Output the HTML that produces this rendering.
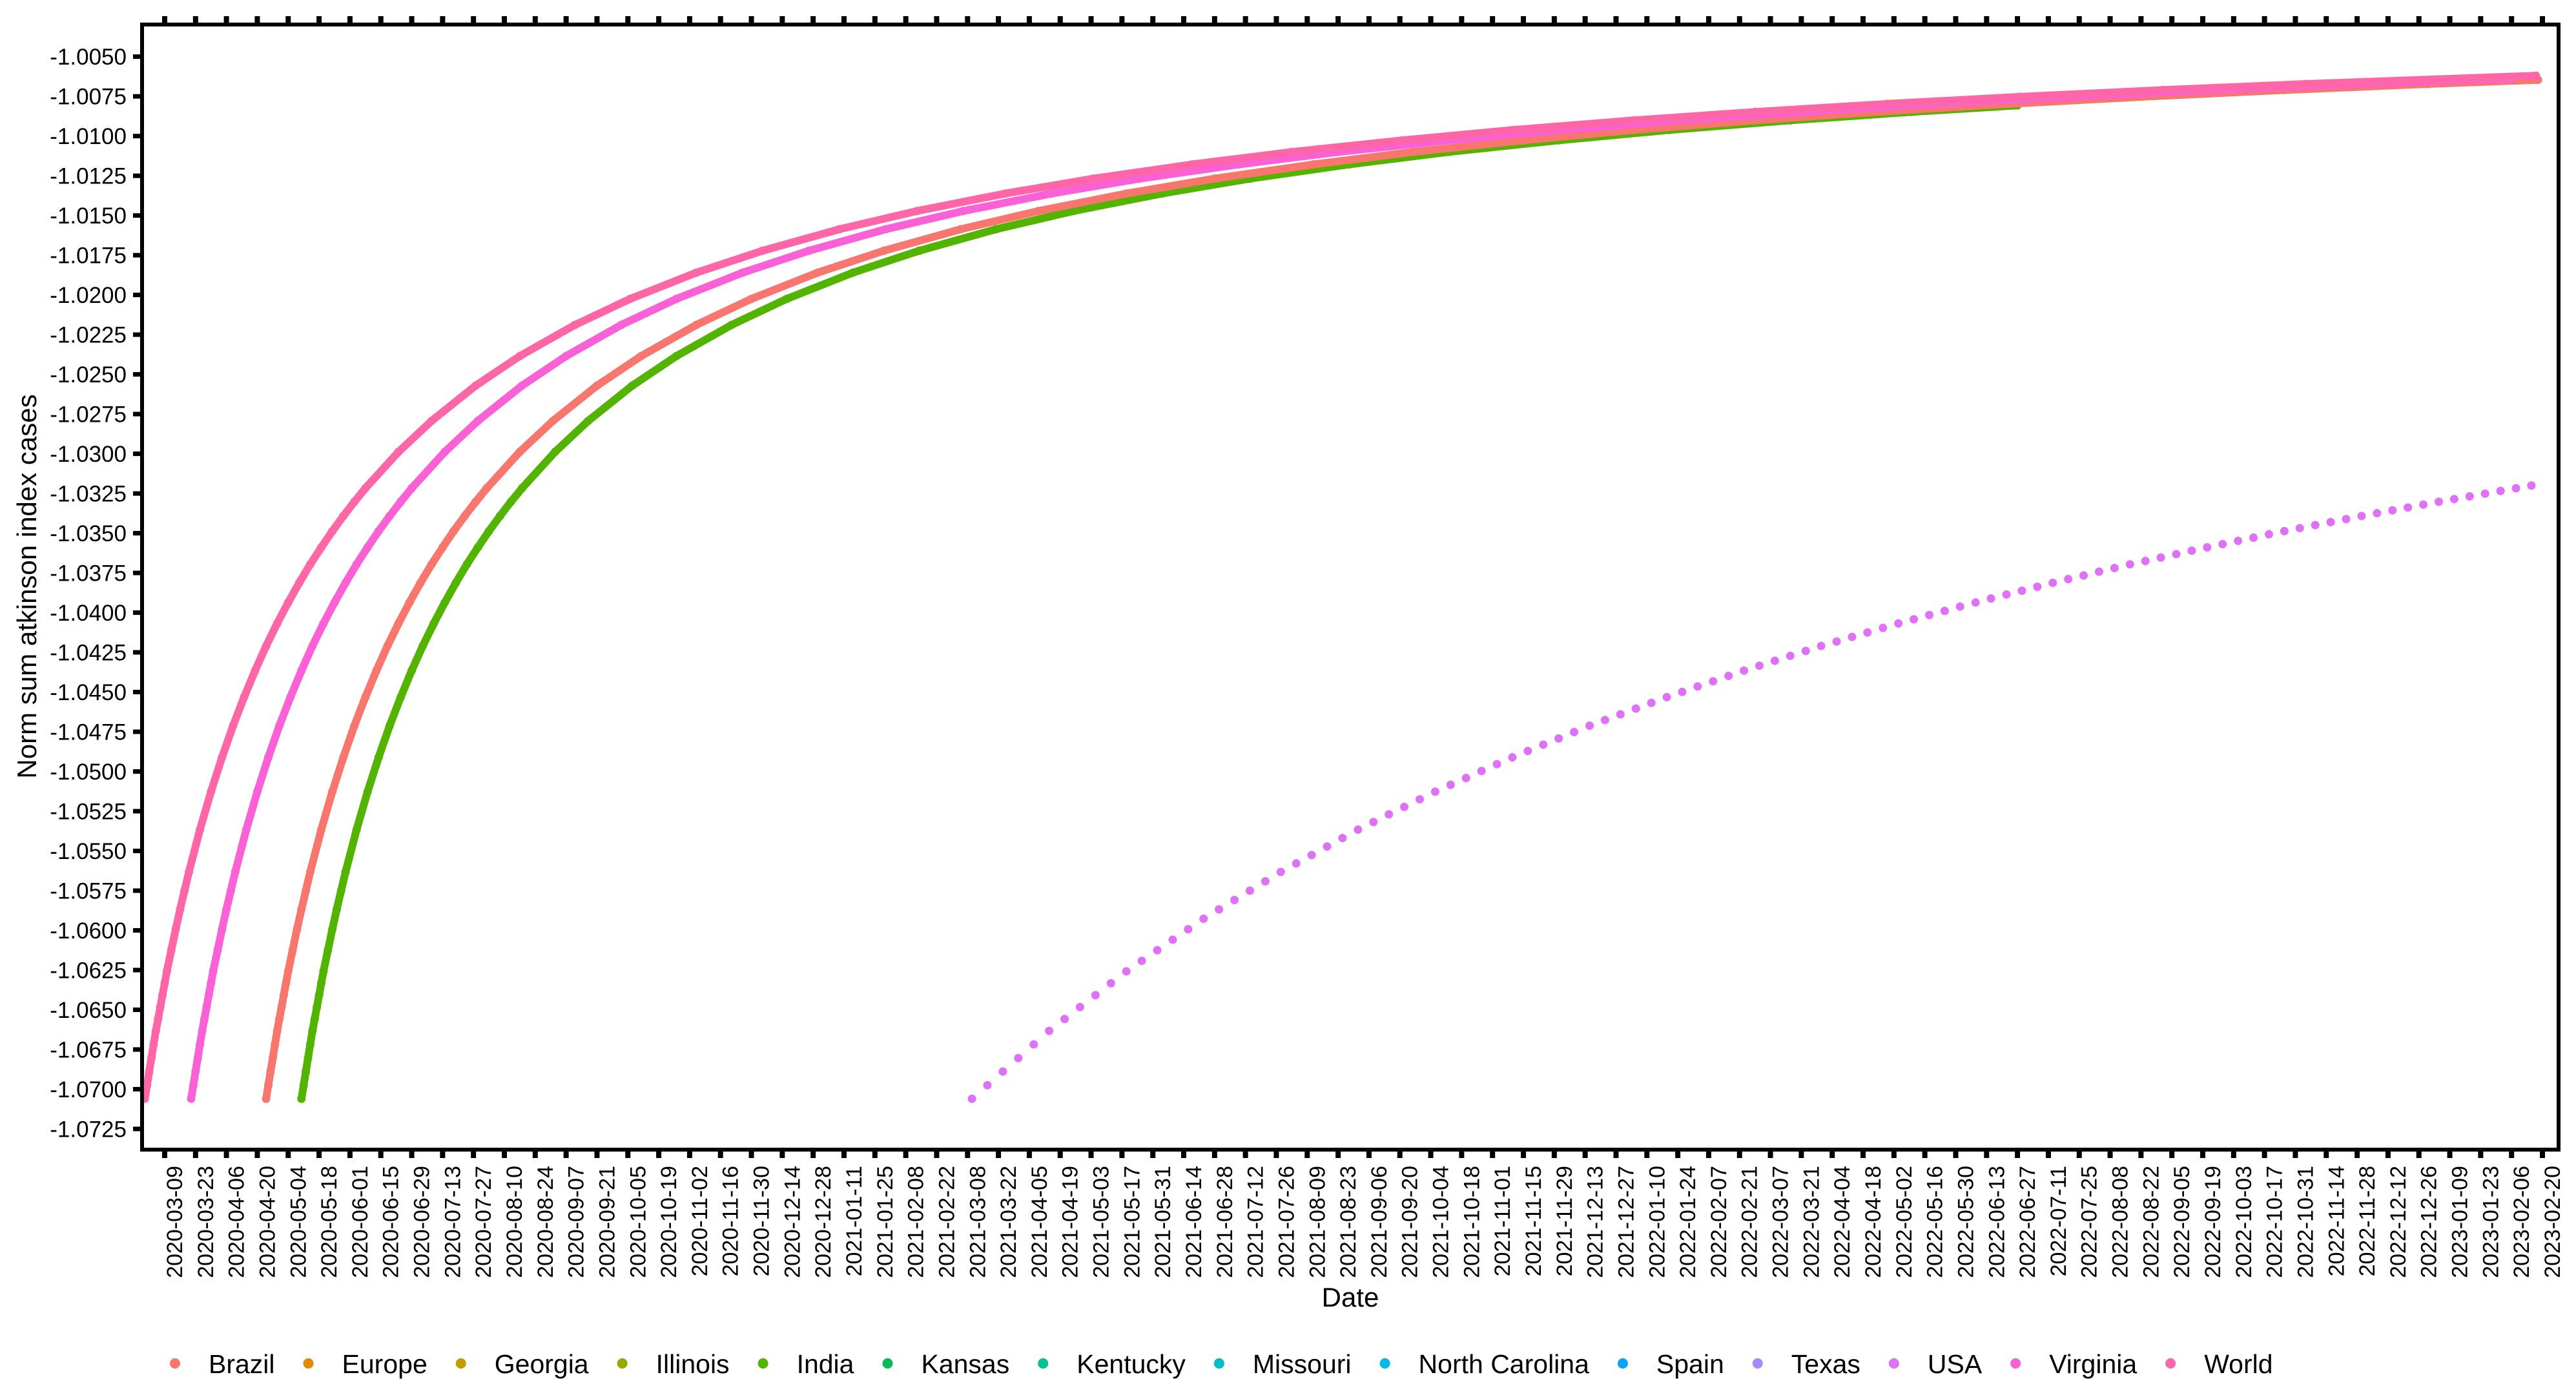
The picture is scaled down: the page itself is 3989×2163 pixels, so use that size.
<!DOCTYPE html>
<html><head><meta charset="utf-8"><style>
html,body{margin:0;padding:0;background:#fff;}
svg{display:block;font-family:"Liberation Sans",Arial,sans-serif;}
</style></head><body>
<svg id="chart" width="3989" height="2163" viewBox="0 0 3989 2163" xmlns="http://www.w3.org/2000/svg">
<rect x="0" y="0" width="3989" height="2163" fill="#fff"/>
<g id="marks"></g>
<g id="axes"></g>
<rect x="220" y="38" width="3742" height="1742" fill="none" stroke="#000" stroke-width="6"/>
<text x="2091" y="2023" font-size="42" text-anchor="middle">Date</text>
<text transform="translate(56,908) rotate(-90)" font-size="42" text-anchor="middle">Norm sum atkinson index cases</text>
<g id="legend"></g>
</svg>
<script>
// ---- data ----
const legendNames = ["Brazil","Europe","Georgia","Illinois","India","Kansas","Kentucky","Missouri","North Carolina","Spain","Texas","USA","Virginia","World"];
const legendColors = ["#F8766D","#E38900","#C49A00","#99A800","#53B400","#00BC56","#00C094","#00BFC4","#00B6EB","#06A4FF","#A58AFF","#DF70F8","#FB61D7","#FF66A8"];
const yTicks = [-1.0050,-1.0075,-1.0100,-1.0125,-1.0150,-1.0175,-1.0200,-1.0225,-1.0250,-1.0275,-1.0300,-1.0325,-1.0350,-1.0375,-1.0400,-1.0425,-1.0450,-1.0475,-1.0500,-1.0525,-1.0550,-1.0575,-1.0600,-1.0625,-1.0650,-1.0675,-1.0700,-1.0725];
const xTickStart = "2020-03-09";
const xTickCount = 78;
const xTickStepDays = 14;

const worldStart = "2020-02-29";
const worldDays = [0,1,2,3,4,5,6,7,8,9,10,12,14,16,18,20,25,30,35,40,45,50,55,60,65,70,75,80,85,90,95,100,115,130,150,170,195,220,250,280,315,350,390,430,475,520,570,620,675,730,790,850,915,980,1084];
const worldValues = [-1.07060,-1.06975,-1.06889,-1.06804,-1.06718,-1.06633,-1.06558,-1.06483,-1.06408,-1.06333,-1.06258,-1.06125,-1.05993,-1.05868,-1.05750,-1.05632,-1.05366,-1.05127,-1.04911,-1.04712,-1.04532,-1.04365,-1.04210,-1.04068,-1.03936,-1.03812,-1.03696,-1.03589,-1.03487,-1.03392,-1.03302,-1.03217,-1.02988,-1.02793,-1.02571,-1.02385,-1.02189,-1.02025,-1.01860,-1.01722,-1.01586,-1.01472,-1.01362,-1.01268,-1.01178,-1.01100,-1.01027,-1.00962,-1.00901,-1.00848,-1.00797,-1.00753,-1.00710,-1.00672,-1.00620];

const virginiaStart = "2020-03-21";
const virginiaDays = [0,1,2,3,4,5,6,7,8,9,10,12,14,16,18,20,25,30,35,40,45,50,55,60,65,70,75,80,85,90,95,100,115,130,150,170,195,220,250,280,315,350,390,430,475,520,570,620,675,730,790,850,915,980,1052];
const virginiaValues = [-1.07060,-1.06975,-1.06889,-1.06804,-1.06718,-1.06633,-1.06558,-1.06483,-1.06408,-1.06333,-1.06258,-1.06125,-1.05993,-1.05868,-1.05750,-1.05632,-1.05366,-1.05127,-1.04911,-1.04712,-1.04532,-1.04365,-1.04210,-1.04068,-1.03936,-1.03812,-1.03696,-1.03589,-1.03487,-1.03392,-1.03302,-1.03217,-1.02988,-1.02793,-1.02571,-1.02385,-1.02189,-1.02025,-1.01860,-1.01722,-1.01586,-1.01472,-1.01362,-1.01268,-1.01178,-1.01100,-1.01027,-1.00962,-1.00901,-1.00848,-1.00797,-1.00753,-1.00710,-1.00672,-1.00636];

const brazilStart = "2020-04-24";
const brazilDays = [0,1,2,3,4,5,6,7,8,9,10,12,14,16,18,20,25,30,35,40,45,50,55,60,65,70,75,80,85,90,95,100,115,130,150,170,195,220,250,280,315,350,390,430,475,520,570,620,675,730,790,850,915,980,1030];
const brazilValues = [-1.07060,-1.06975,-1.06889,-1.06804,-1.06718,-1.06633,-1.06558,-1.06483,-1.06408,-1.06333,-1.06258,-1.06125,-1.05993,-1.05868,-1.05750,-1.05632,-1.05366,-1.05127,-1.04911,-1.04712,-1.04532,-1.04365,-1.04210,-1.04068,-1.03936,-1.03812,-1.03696,-1.03589,-1.03487,-1.03392,-1.03302,-1.03217,-1.02988,-1.02793,-1.02571,-1.02385,-1.02189,-1.02025,-1.01860,-1.01722,-1.01586,-1.01472,-1.01362,-1.01268,-1.01178,-1.01100,-1.01027,-1.00962,-1.00901,-1.00848,-1.00797,-1.00753,-1.00710,-1.00672,-1.00646];

const indiaStart = "2020-05-10";
const indiaDays = [0,1,2,3,4,5,6,7,8,9,10,12,14,16,18,20,25,30,35,40,45,50,55,60,65,70,75,80,85,90,95,100,115,130,150,170,195,220,250,280,315,350,390,430,475,520,570,620,675,730,778];
const indiaValues = [-1.07060,-1.06975,-1.06889,-1.06804,-1.06718,-1.06633,-1.06558,-1.06483,-1.06408,-1.06333,-1.06258,-1.06125,-1.05993,-1.05868,-1.05750,-1.05632,-1.05366,-1.05127,-1.04911,-1.04712,-1.04532,-1.04365,-1.04210,-1.04068,-1.03936,-1.03812,-1.03696,-1.03589,-1.03487,-1.03392,-1.03302,-1.03217,-1.02988,-1.02793,-1.02571,-1.02385,-1.02189,-1.02025,-1.01860,-1.01722,-1.01586,-1.01472,-1.01362,-1.01268,-1.01178,-1.01100,-1.01027,-1.00962,-1.00901,-1.00848,-1.00807];

const usaStart = "2021-03-10";
const usaStepDays = 7;
const usaValues = [-1.07060,-1.06975,-1.06889,-1.06804,-1.06718,-1.06633,-1.06558,-1.06483,-1.06408,-1.06333,-1.06258,-1.06192,-1.06125,-1.06059,-1.05993,-1.05927,-1.05868,-1.05809,-1.05750,-1.05691,-1.05632,-1.05579,-1.05526,-1.05472,-1.05419,-1.05366,-1.05318,-1.05270,-1.05223,-1.05175,-1.05127,-1.05084,-1.05041,-1.04997,-1.04954,-1.04911,-1.04871,-1.04831,-1.04792,-1.04752,-1.04712,-1.04676,-1.04640,-1.04604,-1.04568,-1.04532,-1.04499,-1.04465,-1.04432,-1.04398,-1.04365,-1.04334,-1.04303,-1.04272,-1.04241,-1.04210,-1.04182,-1.04153,-1.04125,-1.04096,-1.04068,-1.04042,-1.04015,-1.03989,-1.03962,-1.03936,-1.03911,-1.03886,-1.03862,-1.03837,-1.03812,-1.03789,-1.03766,-1.03742,-1.03719,-1.03696,-1.03675,-1.03653,-1.03632,-1.03610,-1.03589,-1.03569,-1.03548,-1.03528,-1.03507,-1.03487,-1.03468,-1.03449,-1.03430,-1.03411,-1.03392,-1.03374,-1.03356,-1.03338,-1.03320,-1.03302,-1.03285,-1.03268,-1.03251,-1.03234,-1.03217,-1.03200];

// ---- scales ----
const NS = "http://www.w3.org/2000/svg";
const DAY = 86400000;
const x0Date = Date.UTC(2020,2,9);
function parseDate(s){const p=s.split("-").map(Number);return Date.UTC(p[0],p[1]-1,p[2]);}
function xScale(t){return 255 + (t - x0Date)/DAY*3.4156;}
function yScale(v){return 87.7 + (-1.005 - v)*24596;}
function fmtDate(t){return new Date(t).toISOString().slice(0,10);}
function mk(tag, parent){const e=document.createElementNS(NS,tag);parent.appendChild(e);return e;}

const axes = document.getElementById("axes");
const marks = document.getElementById("marks");
const legend = document.getElementById("legend");

yTicks.forEach(function(v){
  const y = yScale(v);
  const t = mk("line", axes);
  t.setAttribute("x1",206); t.setAttribute("x2",220); t.setAttribute("y1",y); t.setAttribute("y2",y);
  t.setAttribute("stroke","#000"); t.setAttribute("stroke-width",7);
  
  
  const l = mk("text", axes);
  l.setAttribute("x",196); l.setAttribute("y",y+12.5); l.setAttribute("font-size",35); l.setAttribute("text-anchor","end");
  l.textContent = v.toFixed(4);
  
  
});

const xs0 = parseDate(xTickStart);
for (let i=0;i<xTickCount;i++){
  const t = xs0 + i*xTickStepDays*DAY;
  const x = xScale(t);
  const b = mk("line", axes);
  b.setAttribute("x1",x); b.setAttribute("x2",x); b.setAttribute("y1",1780); b.setAttribute("y2",1793);
  b.setAttribute("stroke","#000"); b.setAttribute("stroke-width",8);
  
  
  const tp = mk("line", axes);
  tp.setAttribute("x1",x); tp.setAttribute("x2",x); tp.setAttribute("y1",25); tp.setAttribute("y2",38);
  tp.setAttribute("stroke","#000"); tp.setAttribute("stroke-width",8);
  
  
  const l = mk("text", axes);
  l.setAttribute("transform","translate("+(x+27)+",1805) rotate(-90)");
  l.setAttribute("font-size",34); l.setAttribute("text-anchor","end");
  l.textContent = fmtDate(t);
  
  
}

function drawDaily(startStr, days, values, color, name){
  const s = parseDate(startStr);
  const pts = days.map(function(d,i){return xScale(s + d*DAY).toFixed(1)+","+yScale(values[i]).toFixed(1);});
  const g = mk("g", marks);
  
  
  const pl = mk("polyline", g);
  pl.setAttribute("points", pts.join(" "));
  pl.setAttribute("fill","none"); pl.setAttribute("stroke",color);
  pl.setAttribute("stroke-width",12); pl.setAttribute("stroke-linejoin","round"); pl.setAttribute("stroke-linecap","round");
  
  
  days.forEach(function(d,i){
    const c = mk("circle", g);
    c.setAttribute("cx", xScale(s + d*DAY)); c.setAttribute("cy", yScale(values[i])); c.setAttribute("r",6.5);
    c.setAttribute("fill", color);
    
    
  });
}
drawDaily(indiaStart, indiaDays, indiaValues, "#53B400", "series-india");
drawDaily(brazilStart, brazilDays, brazilValues, "#F8766D", "series-brazil");
drawDaily(virginiaStart, virginiaDays, virginiaValues, "#FB61D7", "series-virginia");
drawDaily(worldStart, worldDays, worldValues, "#FF66A8", "series-world");

const usaG = mk("g", marks);


const us0 = parseDate(usaStart);
usaValues.forEach(function(v,i){
  const c = mk("circle", usaG);
  c.setAttribute("cx", xScale(us0 + i*usaStepDays*DAY)); c.setAttribute("cy", yScale(v)); c.setAttribute("r",6.5);
  c.setAttribute("fill","#DF70F8");
  
  
});

let lx = 271;
legendNames.forEach(function(n,i){
  const item = mk("g", legend);
  
  
  const c = mk("circle", item);
  c.setAttribute("cx", lx); c.setAttribute("cy", 2111); c.setAttribute("r", 8);
  c.setAttribute("fill", legendColors[i]);
  
  
  const t = mk("text", item);
  t.setAttribute("x", lx+52); t.setAttribute("y", 2126); t.setAttribute("font-size", 41);
  t.textContent = n;
  
  
  lx = lx + 52 + t.getComputedTextLength() + 52;
});
</script>
</body></html>
